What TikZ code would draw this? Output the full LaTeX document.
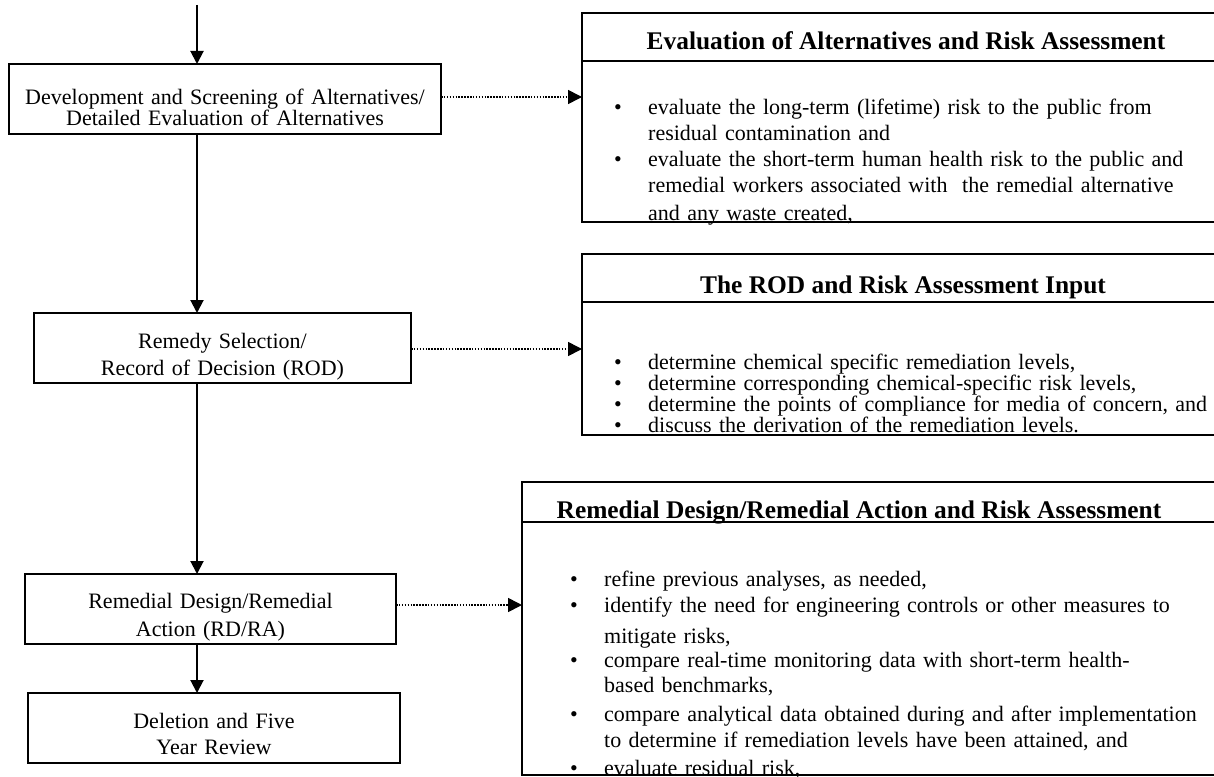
\documentclass[tikz,border=0pt]{standalone}
\usepackage{fontspec}
\setmainfont{Liberation Serif}
\usetikzlibrary{arrows.meta}

% font size and fixed baseline spacing
\newcommand\setfs[2]{\fontsize{#1}{#2}\selectfont\lineskiplimit=-50pt\relax}
% bulleted line and indented continuation line
\newcommand\itm{\par\noindent\makebox[34pt][l]{\textbullet}}
\newcommand\cnt{\par\noindent\hspace*{34pt}}
% fixed first-line height so the top edge of a text block is predictable
\newcommand\topstrut{\rule{0pt}{18pt}}

\begin{document}
\begin{tikzpicture}[x=1pt,y=-1pt,
  stepbox/.style={draw,line width=2pt,minimum width=#1,minimum height=70pt,
                  inner sep=0pt,outer sep=0pt},
  steptext/.style={anchor=north,inner sep=0pt,text width=#1,align=center},
  panel/.style n args={2}{draw,line width=2pt,minimum width=#1,minimum height=#2,
                  anchor=north west,inner sep=0pt,outer sep=0pt},
  sepline/.style={line width=1.6pt},
  headtext/.style={anchor=base,inner sep=0pt,font=\bfseries\setfs{25.4}{28}},
  list/.style={anchor=north west,inner sep=0pt,text width=700pt,align=left},
  arr/.style={line width=2pt,-{Triangle[length=13pt,width=13pt]}},
  dotline/.style={line width=1.6pt,dash pattern=on 1.5pt off 1.4pt,
                  -{Triangle[length=14pt,width=14pt]}}
]
\useasboundingbox (0,0) rectangle (1214,776);
\clip (0,0) rectangle (1214,776);
\fill[white] (0,0) rectangle (1214,776);

% ---- process steps (left column)
\node[stepbox=432pt] (b1) at (225,99) {};
\node[stepbox=377pt] (b2) at (222.5,348) {};
\node[stepbox=371pt] (b3) at (210.5,609) {};
\node[stepbox=372pt] (b4) at (214,728) {};

\node[steptext=425pt,font=\setfs{22}{21}] (t1) at (225,86)
  {\topstrut Development and Screening of Alternatives/\\ Detailed Evaluation of Alternatives};
\node[steptext=370pt,font=\setfs{22}{27}] (t2) at (222.5,330)
  {\topstrut Remedy Selection/\\ Record of Decision (ROD)};
\node[steptext=365pt,font=\setfs{22}{28}] (t3) at (210.5,590)
  {\topstrut Remedial Design/Remedial\\ Action (RD/RA)};
\node[steptext=365pt,font=\setfs{22}{26}] (t4) at (214,710)
  {\topstrut Deletion and Five\\ Year Review};

% ---- risk assessment panels (right column)
\node[panel={648pt}{209pt}] (r1) at (582,13) {};
\node[panel={648pt}{181pt}] (r2) at (582,254) {};
\node[panel={708pt}{293pt}] (r3) at (522,482) {};

\coordinate (s1) at (0,61);
\coordinate (s2) at (0,302);
\coordinate (s3) at (0,522);
\draw[sepline] (r1.west |- s1) -- (r1.east |- s1);
\draw[sepline] (r2.west |- s2) -- (r2.east |- s2);
\draw[sepline] (r3.west |- s3) -- (r3.east |- s3);

\node[headtext] (h1) at (906,50) {Evaluation of Alternatives and Risk Assessment};
\node[headtext] (h2) at (903,293) {The ROD and Risk Assessment Input};
\node[headtext] (h3) at (859,518) {Remedial Design/Remedial Action and Risk Assessment};

\node[list,font=\setfs{22}{26}] (l1) at (614,88) {%
  \itm\topstrut evaluate the long-term (lifetime) risk to the public from
  \cnt residual contamination and
  \itm evaluate the short-term human health risk to the public and
  \cnt remedial workers associated with\ \ the remedial alternative
  \par\vspace{2pt}%
  \cnt and any waste created,};

\node[list,font=\setfs{22}{21}] (l2) at (614,348) {%
  \itm\topstrut determine chemical specific remediation levels,
  \itm determine corresponding chemical-specific risk levels,
  \itm determine the points of compliance for media of concern, and
  \itm discuss the derivation of the remediation levels.};

\node[list,font=\setfs{22}{26}] (l3) at (570,560) {%
  \itm\topstrut refine previous analyses, as needed,
  \itm identify the need for engineering controls or other measures to
  \par\vspace{5pt}%
  \cnt mitigate risks,
  \par\vspace{-2pt}%
  \itm compare real-time monitoring data with short-term health-
  \par\vspace{-1pt}%
  \cnt based benchmarks,
  \par\vspace{3pt}%
  \itm compare analytical data obtained during and after implementation
  \cnt to determine if remediation levels have been attained, and
  \par\vspace{2pt}%
  \itm evaluate residual risk,};

% ---- connectors
\coordinate (src) at (197,5);
\draw[arr] (src) -- (src |- b1.north);
\draw[arr] (src |- b1.south) -- (src |- b2.north);
\draw[arr] (src |- b2.south) -- (src |- b3.north);
\draw[arr] (src |- b3.south) -- (src |- b4.north);

\coordinate (d1) at ([yshift=2pt]b1.east);
\coordinate (d2) at ([yshift=-1pt]b2.east);
\coordinate (d3) at ([yshift=4pt]b3.east);
\draw[dotline] (d1) -- (d1 -| r1.west);
\draw[dotline] (d2) -- (d2 -| r2.west);
\draw[dotline] (d3) -- (d3 -| r3.west);
\end{tikzpicture}
\end{document}
